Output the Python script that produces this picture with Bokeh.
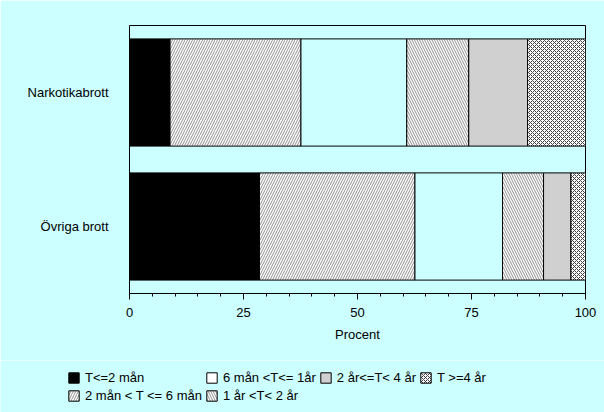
from bokeh.plotting import figure
from bokeh.models import (FactorRange, Range1d, FixedTicker, Legend, LegendItem,
                          ColumnDataSource)
from bokeh.embed import file_html
from bokeh.resources import INLINE

categories = ["Övriga brott", "Narkotikabrott"]
series = ["T<=2 mån", "2 mån < T <= 6 mån", "6 mån <T<= 1år",
          "1 år <T< 2 år", "2 år<=T< 4 år", "T >=4 år"]
v_t2 = [28.5, 8.9]
v_2_6 = [34.1, 28.7]
v_6_12 = [19.2, 23.2]
v_1_2 = [9.0, 13.6]
v_2_4 = [6.0, 12.9]
v_4 = [3.2, 12.7]
x_ticks = [0, 25, 50, 75, 100]
x_minor = list(range(0, 101, 5))

BG = "#CCFFFF"
keys = ["s0", "s1", "s2", "s3", "s4", "s5"]
data = dict(cat=categories, s0=v_t2, s1=v_2_6, s2=v_6_12, s3=v_1_2, s4=v_2_4, s5=v_4)
src = ColumnDataSource(data)

p = figure(y_range=FactorRange(*categories, range_padding=0), x_range=Range1d(0, 100),
           frame_width=456, frame_height=268, output_backend="svg", toolbar_location=None,
           min_border_left=129, min_border_right=19, min_border_top=25,
           min_border_bottom=67)
p.background_fill_color = BG
p.border_fill_color = BG
p.outline_line_color = "black"
p.outline_line_width = 1
p.xgrid.visible = False
p.ygrid.visible = False

fills = ["black", "white", BG, "white", "#D0D0D0", "white"]
hatches = [None, "/", None, "\\", None, "x"]
hcolors = ["black", "#909090", "black", "#909090", "black", "#404040"]
hscales = [1, 5, 1, 5, 1, 4]

p.hbar_stack(keys, y="cat", height=0.8, source=src,
             fill_color=fills, line_color="black", line_width=1,
             hatch_pattern=hatches, hatch_color=hcolors,
             hatch_scale=hscales, hatch_weight=1)

xa = p.xaxis[0]
xa.ticker = FixedTicker(ticks=x_ticks, minor_ticks=x_minor)
xa.major_tick_out = 6
xa.major_tick_in = 0
xa.minor_tick_out = 3
xa.minor_tick_in = 0
xa.axis_line_color = "black"
xa.major_tick_line_color = "black"
xa.minor_tick_line_color = "black"
xa.major_label_text_font = "Liberation Sans"
xa.major_label_text_font_size = "13px"
xa.major_label_text_color = "black"
xa.major_label_standoff = 8
xa.axis_label = "Procent"
xa.axis_label_text_font = "Liberation Sans"
xa.axis_label_text_font_size = "13px"
xa.axis_label_text_font_style = "normal"
xa.axis_label_text_color = "black"
xa.axis_label_standoff = 7

ya = p.yaxis[0]
ya.axis_line_color = None
ya.major_tick_line_color = None
ya.minor_tick_line_color = None
ya.major_label_text_font = "Liberation Sans"
ya.major_label_text_font_size = "13px"
ya.major_label_text_color = "black"
ya.major_label_standoff = 15

# legend strip below the chart (separate root, so its frame spans the full width)
q = figure(width=604, height=52, output_backend="svg", toolbar_location=None,
           x_axis_location=None, y_axis_location=None, min_border=0,
           y_range=FactorRange(*categories), x_range=Range1d(-2, -1))
q.background_fill_color = BG
q.border_fill_color = BG
q.outline_line_color = None
q.xgrid.visible = False
q.ygrid.visible = False

legend_fills = ["black", "white", "white", "white", "#D0D0D0", "white"]
proxies = []
for i, k in enumerate(keys):
    r = q.hbar(y="cat", right=k, height=0.8, source=src,
               fill_color=legend_fills[i], line_color="black", line_width=1,
               hatch_pattern=hatches[i], hatch_color=hcolors[i],
               hatch_scale=hscales[i], hatch_weight=1)
    proxies.append(r)

order = [0, 2, 4, 5, 1, 3]
items = [LegendItem(label=series[i], renderers=[proxies[i]]) for i in order]
lg = Legend(items=items, location=(67, 9), orientation="horizontal", ncols=4,
            padding=0, margin=0, spacing=3, glyph_width=13, glyph_height=13,
            label_height=13, label_standoff=5,
            label_text_font="Liberation Sans", label_text_font_size="13px",
            label_text_color="black", background_fill_alpha=0,
            border_line_alpha=0)
q.add_layout(lg, "center")

open("out.html", "w").write(file_html([p, q], INLINE))
